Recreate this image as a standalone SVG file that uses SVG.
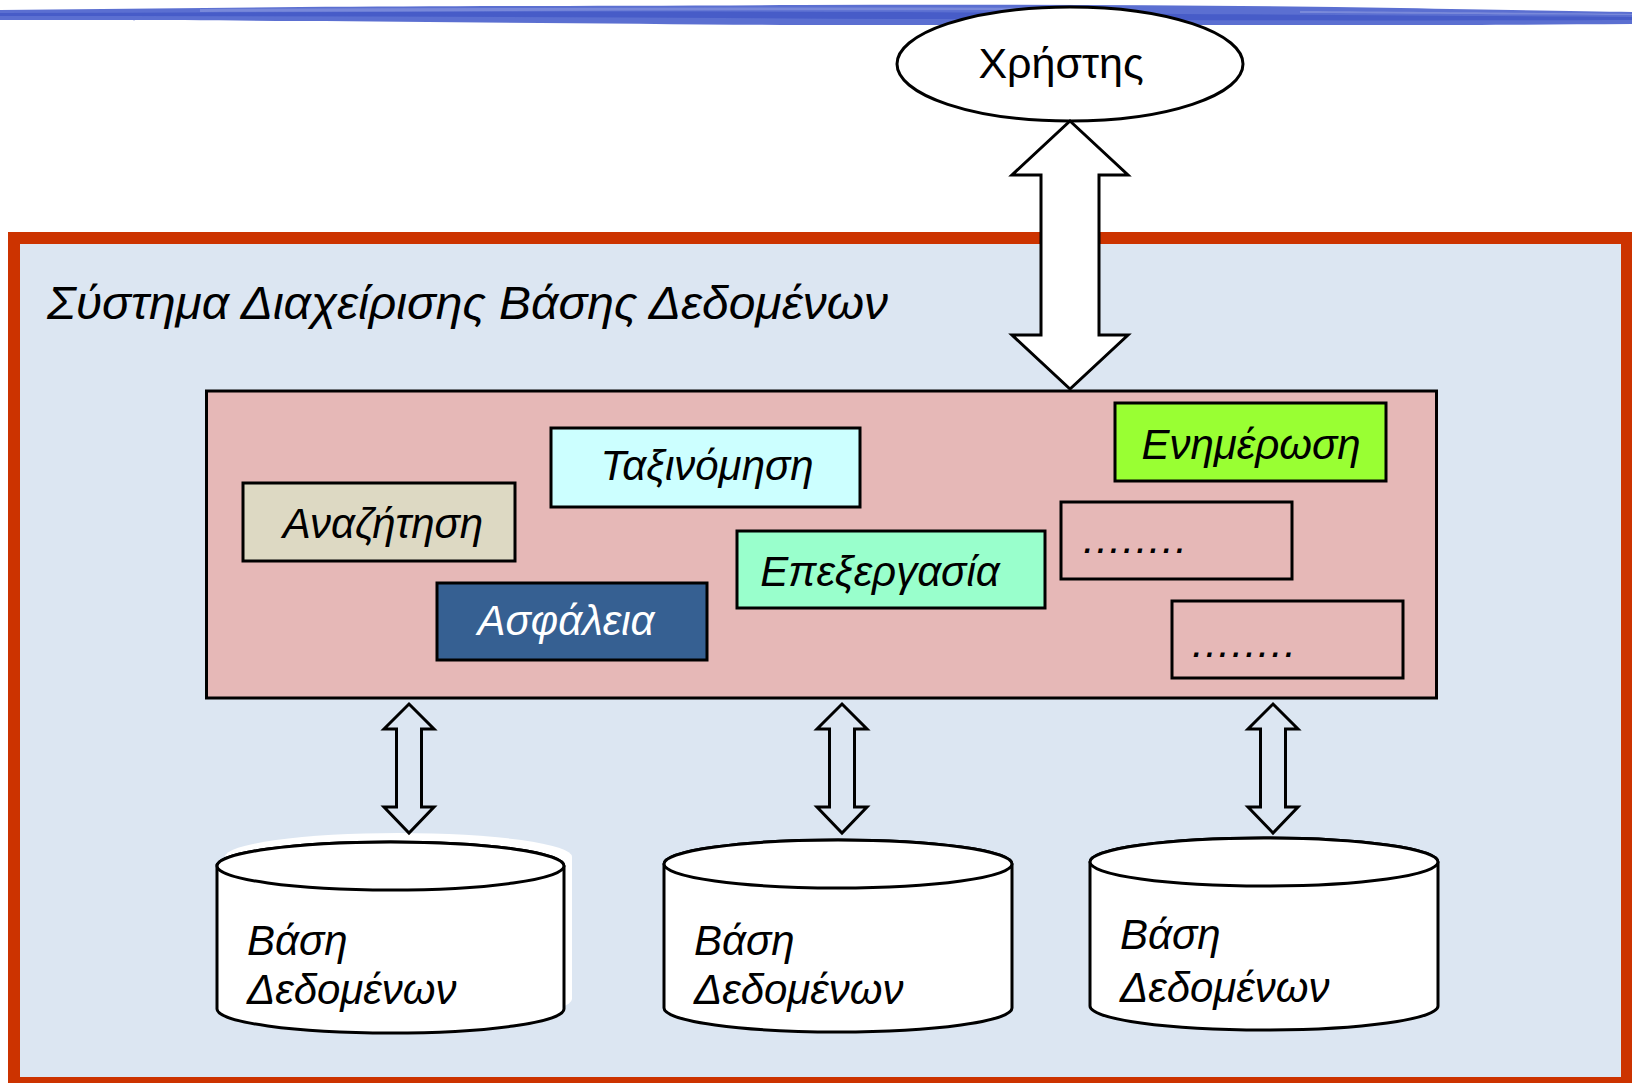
<svg xmlns="http://www.w3.org/2000/svg" width="1632" height="1083" viewBox="0 0 1632 1083">
<style>
.t{font-family:"Liberation Sans",Arial,sans-serif;font-style:italic;font-size:42px;fill:#000}
.box{stroke:#000;stroke-width:3}
.arr{fill:#dce6f2;stroke:#000;stroke-width:3;stroke-linejoin:miter}
.cyl{fill:#fff;stroke:#000;stroke-width:3}
</style>
<defs>
<polygon id="sarrow" points="0,704 25,729 12.5,729 12.5,807 25,807 0,833 -25,807 -12.5,807 -12.5,729 -25,729"/>
</defs>
<rect width="1632" height="1083" fill="#fff"/>
<g id="banner">
<path d="M0,10 C100,9 200,8 300,7 C450,6 600,6 800,5 C1000,4 1200,5 1400,8 C1500,10 1580,11 1632,12 L1632,24 C1500,25 1400,25 1250,25 C1100,25 950,25 800,25 C650,24 450,22 300,21 C180,20 80,20 0,20 Z" fill="#5b6fd1"/>
<path d="M0,13 C300,12 600,11 900,12 C1200,14 1450,16 1632,17 L1632,20 C1400,21 1200,20 900,19 C600,17 300,16 0,16 Z" fill="#4257c6" opacity="0.8"/>
<path d="M200,9 C500,8 800,7 1100,8 L1100,10 C800,10 500,11 200,12 Z" fill="#8d9be0" opacity="0.6"/>
<path d="M1300,11 C1450,12 1550,13 1632,14 L1632,15 C1550,15 1450,14 1300,13 Z" fill="#8d9be0" opacity="0.6"/>
</g>
<g id="dbms">
<rect x="14" y="238" width="1613" height="845" fill="#dce6f2" stroke="#cc3300" stroke-width="12"/>
<text x="47" y="319" class="t" style="font-size:46px" textLength="841" lengthAdjust="spacingAndGlyphs">Σύστημα Διαχείρισης Βάσης Δεδομένων</text>
</g>
<g id="engine">
<rect x="206.5" y="391" width="1230" height="307" fill="#e6b8b7" class="box"/>
</g>
<g id="anazitisi">
<rect x="243" y="483" width="272" height="78" fill="#ddd9c3" class="box"/>
<text x="383" y="538" class="t" text-anchor="middle">Αναζήτηση</text>
</g>
<g id="taxinomisi">
<rect x="551" y="428" width="309" height="79" fill="#ccffff" class="box"/>
<text x="707" y="480" class="t" text-anchor="middle">Ταξινόμηση</text>
</g>
<g id="asfaleia">
<rect x="437" y="583" width="270" height="77" fill="#366092" class="box"/>
<text x="566" y="635" class="t" text-anchor="middle" style="fill:#fff">Ασφάλεια</text>
</g>
<g id="epexergasia">
<rect x="737" y="531" width="308" height="77" fill="#99ffcc" class="box"/>
<text x="880" y="586" class="t" text-anchor="middle">Επεξεργασία</text>
</g>
<g id="enimerosi">
<rect x="1115" y="403" width="271" height="78" fill="#99ff33" class="box"/>
<text x="1251" y="459" class="t" text-anchor="middle">Ενημέρωση</text>
</g>
<g id="more1">
<rect x="1061" y="502" width="231" height="77" fill="#e6b8b7" class="box"/>
<text x="1083" y="553" class="t" letter-spacing="1.5">........</text>
</g>
<g id="more2">
<rect x="1172" y="601" width="231" height="77" fill="#e6b8b7" class="box"/>
<text x="1192" y="657" class="t" letter-spacing="1.5">........</text>
</g>
<g id="user">
<ellipse cx="1070" cy="64" rx="173" ry="57" fill="#fff" stroke="#000" stroke-width="3"/>
<text x="1061" y="78" font-family="'Liberation Sans',Arial,sans-serif" font-size="43" text-anchor="middle">Χρήστης</text>
</g>
<g id="db1">
<path d="M225,857 A173.5,24 0 0 1 572,857 L572,999 A173.5,24 0 0 1 225,999 Z" fill="#fff"/>
<path d="M217,866 A173.5,24 0 0 1 564,866 L564,1009 A173.5,24 0 0 1 217,1009 Z" class="cyl"/>
<ellipse cx="390.5" cy="866" rx="173.5" ry="24" class="cyl"/>
<text x="247" y="955" class="t">Βάση</text>
<text x="247" y="1004" class="t">Δεδομένων</text>
</g>
<g id="db2">
<path d="M664,864 A174,24 0 0 1 1012,864 L1012,1008 A174,24 0 0 1 664,1008 Z" class="cyl"/>
<ellipse cx="838" cy="864" rx="174" ry="24" class="cyl"/>
<text x="694" y="955" class="t">Βάση</text>
<text x="694" y="1004" class="t">Δεδομένων</text>
</g>
<g id="db3">
<path d="M1090,862 A174,24 0 0 1 1438,862 L1438,1006 A174,24 0 0 1 1090,1006 Z" class="cyl"/>
<ellipse cx="1264" cy="862" rx="174" ry="24" class="cyl"/>
<text x="1120" y="949" class="t">Βάση</text>
<text x="1120" y="1002" class="t">Δεδομένων</text>
</g>
<g id="connectors">
<polygon points="1070,121 1128,175 1099,175 1099,335 1128,335 1070,389 1012,335 1041,335 1041,175 1012,175" fill="#fff" stroke="#000" stroke-width="3"/>
<use href="#sarrow" x="409" class="arr"/>
<use href="#sarrow" x="842" class="arr"/>
<use href="#sarrow" x="1273" class="arr"/>
</g>
</svg>
